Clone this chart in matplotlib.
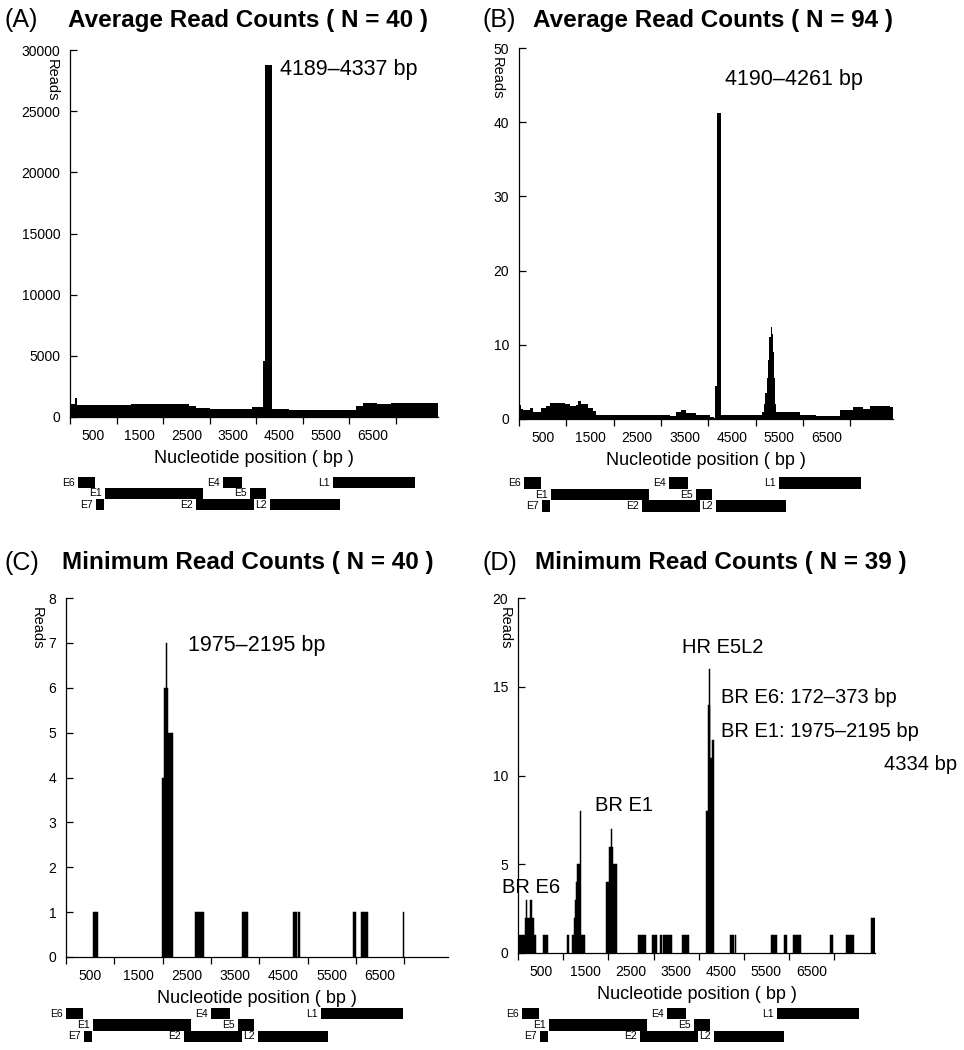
import matplotlib
matplotlib.use("Agg")
import matplotlib.pyplot as plt

plt.rcParams['font.family'] = ['Liberation Sans', 'DejaVu Sans']

GENOME = 7904

# (A) average read counts, N = 40  (step profile: edges / values)
a_edges = [0, 80, 110, 140, 400, 700, 1000, 1300, 1600, 1900, 2200, 2400, 2550, 2700,
           3000, 3300, 3600, 3900, 4150, 4189, 4337, 4700, 5000, 5300, 5600, 5900, 6050,
           6150, 6300, 6600, 6900, 7200, 7500, 7904]
a_reads = [1050, 1100, 1550, 980, 990, 1000, 970, 1080, 1100, 1090, 1080, 1060, 900, 760,
           640, 620, 680, 780, 4600, 28800, 620, 580, 560, 570, 590, 560, 580, 900, 1130,
           1080, 1150, 1120, 1180]

# (B) average read counts, N = 94
b_edges = [0, 14, 49, 85, 225, 296, 472, 578, 648, 965, 1071, 1212, 1247, 1318, 1459, 1564,
           1635, 1917, 2340, 2762, 3185, 3326, 3432, 3537, 3749, 4031, 4115, 4151, 4190, 4261,
           4735, 5088, 5144, 5180, 5208, 5236, 5264, 5292, 5321, 5349, 5370, 5391, 5419, 5440,
           5934, 6286, 6779, 7061, 7273, 7413, 7836, 7904]
b_reads = [1.7, 1.9, 1.3, 1.2, 1.5, 1.0, 1.5, 1.8, 2.2, 2.0, 1.7, 1.9, 2.4, 2.0, 1.5, 1.1,
           0.6, 0.5, 0.55, 0.5, 0.45, 0.9, 1.2, 0.8, 0.5, 0.3, 0.15, 4.5, 41.3, 0.6, 0.5, 0.6,
           1.0, 2.0, 3.5, 5.5, 8.0, 11.0, 12.4, 11.5, 9.0, 5.5, 2.0, 0.9, 0.6, 0.4, 1.2, 1.6,
           1.3, 1.7, 1.6]

# (C) minimum read counts, N = 40
c_start = [559, 1979, 2034, 2069, 2090, 2117, 2676, 3641, 4697, 4807, 5931, 6110, 6972]
c_end = [662, 2034, 2069, 2090, 2117, 2207, 2848, 3772, 4779, 4848, 5993, 6255, 7000]
c_reads = [1, 4, 6, 7, 6, 5, 1, 1, 1, 1, 1, 1, 1]

# (D) minimum read counts, N = 39
d_start = [22, 163, 185, 200, 259, 310, 355, 554, 1086, 1205, 1234, 1264, 1286, 1316, 1367,
           1390, 1959, 2018, 2055, 2077, 2106, 2661, 2956, 3141, 3200, 3636, 4161, 4198,
           4218, 4240, 4257, 4294, 4693, 4804, 5595, 5891, 6097, 6911, 7265, 7812]
d_end = [163, 185, 200, 259, 310, 355, 392, 658, 1131, 1234, 1264, 1286, 1316, 1367, 1390,
         1478, 2018, 2055, 2077, 2106, 2195, 2831, 3067, 3180, 3400, 3792, 4198, 4218,
         4240, 4257, 4294, 4334, 4782, 4826, 5728, 5964, 6260, 6984, 7428, 7904]
d_reads = [1, 2, 3, 2, 3, 2, 1, 1, 1, 1, 2, 3, 4, 5, 8,
           1, 4, 6, 7, 6, 5, 1, 1, 1, 1, 1, 8, 14,
           16, 14, 11, 12, 1, 1, 1, 1, 1, 1, 1, 2]

# HPV genome map
gene_names = ['E6', 'E7', 'E1', 'E2', 'E4', 'E5', 'L2', 'L1']
gene_start = [172, 558, 751, 2704, 3283, 3863, 4292, 5644]
gene_end = [536, 730, 2854, 3948, 3691, 4206, 5794, 7403]
gene_lane = [0, 2, 1, 2, 0, 1, 2, 0]

W, H = 964, 1050
fig = plt.figure(figsize=(W / 100, H / 100), dpi=100)


def box(l, t, r, b):
    return [l / W, 1 - b / H, (r - l) / W, (b - t) / H]


def style(ax, ymax, ystep):
    ax.set_xlim(0, GENOME)
    ax.set_ylim(0, ymax)
    for s in ['top', 'right']:
        ax.spines[s].set_visible(False)
    for s in ['left', 'bottom']:
        ax.spines[s].set_linewidth(0.9)
    ax.set_xticks(range(0, 7001, 1000))
    ax.set_xticklabels([])
    ax.set_xticks(range(500, 6501, 1000), minor=True)
    ax.set_xticklabels([str(v) for v in range(500, 6501, 1000)], minor=True, fontsize=10)
    ax.tick_params(axis='x', which='major', direction='out', length=5, width=0.9)
    ax.tick_params(axis='x', which='minor', length=0, pad=9)
    ax.set_yticks([ystep * i for i in range(int(round(ymax / ystep)) + 1)])
    ax.tick_params(axis='y', direction='in', length=5, width=0.9, labelsize=10, pad=7)
    ax.set_xlabel('Nucleotide position ( bp )', fontsize=13, labelpad=5)


def gene_map(rect):
    gm = fig.add_axes(box(*rect))
    gm.set_xlim(0, GENOME)
    gm.set_ylim(3, 0)
    gm.axis('off')
    for name, s, e, lane in zip(gene_names, gene_start, gene_end, gene_lane):
        gm.barh(lane + 0.5, e - s, left=s, height=1.0, color='black', lw=0)
        gm.annotate(name, (s, lane + 0.5), xytext=(-2.5, 0), textcoords='offset points',
                    ha='right', va='center', fontsize=7.5)


def titles(x_lab, x_title, y, letter, title):
    fig.text(x_lab / W, 1 - y / H, letter, fontsize=18, ha='left', va='center')
    fig.text(x_title / W, 1 - y / H, title, fontsize=17.5, fontweight='bold',
             ha='left', va='center')


def reads_label(x, y):
    fig.text(x / W, 1 - y / H, 'Reads', fontsize=10.5, rotation=270, ha='center', va='top')


def draw_bars(ax, start, end, reads):
    ax.bar(start, reads, width=[e - s for s, e in zip(start, end)], align='edge',
           color='black', edgecolor='black', lw=0.35)


# (A)
ax = fig.add_axes(box(70, 50, 438, 417))
ax.stairs(a_reads, a_edges, fill=True, color='black', lw=0)
style(ax, 30000, 5000)
ax.text(4506, 28400, '4189–4337 bp', fontsize=15.5, ha='left', va='center')
titles(5, 68, 20, '(A)', 'Average Read Counts ( N = 40 )')
reads_label(52, 59)
gene_map((70, 477, 438, 510))

# (B)
ax = fig.add_axes(box(519, 48, 893, 419))
ax.stairs(b_reads, b_edges, fill=True, color='black', lw=0)
style(ax, 50, 10)
ax.text(4349, 45.7, '4190–4261 bp', fontsize=15.5, ha='left', va='center')
titles(482, 533, 20, '(B)', 'Average Read Counts ( N = 94 )')
reads_label(497, 57)
gene_map((516, 477, 884, 512))

# (C)
ax = fig.add_axes(box(66, 598, 448, 957))
draw_bars(ax, c_start, c_end, c_reads)
style(ax, 8, 1)
ax.text(2526, 6.95, '1975–2195 bp', fontsize=15.5, ha='left', va='center')
titles(5, 62, 563, '(C)', 'Minimum Read Counts ( N = 40 )')
reads_label(37, 607)
gene_map((58, 1008, 426, 1042))

# (D)
ax = fig.add_axes(box(518, 598, 875, 953))
draw_bars(ax, d_start, d_end, d_reads)
style(ax, 20, 5)
ax.text(3636, 17.2, 'HR E5L2', fontsize=14.5, ha='left', va='center')
ax.text(4501, 14.4, 'BR E6: 172–373 bp', fontsize=14.5, ha='left', va='center')
ax.text(4501, 12.5, 'BR E1: 1975–2195 bp', fontsize=14.5, ha='left', va='center')
ax.text(8093, 10.6, '4334 bp', fontsize=14.5, ha='left', va='center')
ax.text(1707, 8.3, 'BR E1', fontsize=14.5, ha='left', va='center')
ax.text(-355, 3.7, 'BR E6', fontsize=14.5, ha='left', va='center')
titles(482, 535, 563, '(D)', 'Minimum Read Counts ( N = 39 )')
reads_label(505, 607)
gene_map((514, 1008, 882, 1042))

fig.savefig('out.png', dpi=100, facecolor='white')
